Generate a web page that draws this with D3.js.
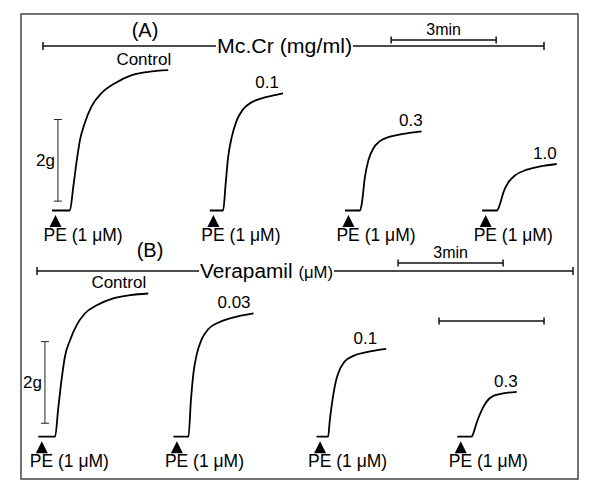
<!DOCTYPE html>
<html>
<head>
<meta charset="utf-8">
<script src="https://cdn.jsdelivr.net/npm/d3@7"></script>
<style>
  body { margin: 0; background: #fff; }
  svg text { font-family: "Liberation Sans", Arial, sans-serif; fill: #000; }
</style>
</head>
<body>
<svg id="chart" width="600" height="504"></svg>
<script>
// contraction records: [minutes from start of trace, grams above baseline]
var mcCrControl = [[0,0],[0.51,0],[0.61,0.59],[0.71,1.24],[0.80,1.73],[0.94,2.15],[1.13,2.55],[1.42,2.88],[1.80,3.12],[2.28,3.32],[2.75,3.40],[3.32,3.44]];
var mcCr01 = [[0,0],[0.38,0],[0.45,0.64],[0.52,1.29],[0.62,1.78],[0.76,2.19],[0.95,2.48],[1.19,2.65],[1.48,2.75],[1.76,2.81],[2.09,2.87]];
var mcCr03 = [[0,0],[0.43,0],[0.48,0.16],[0.57,0.82],[0.67,1.23],[0.81,1.52],[1.00,1.70],[1.29,1.81],[1.67,1.88],[2.19,1.94]];
var mcCr10 = [[0,0],[0.43,0],[0.51,0.16],[0.61,0.45],[0.75,0.69],[0.94,0.86],[1.28,1.00],[1.66,1.08],[2.13,1.14]];

var verControl = [[0,0],[0.48,0],[0.57,0.70],[0.67,1.43],[0.76,1.96],[0.91,2.37],[1.10,2.74],[1.33,3.02],[1.67,3.22],[2.14,3.39],[2.62,3.47],[3.14,3.51]];
var ver003 = [[0,0],[0.43,0],[0.50,0.88],[0.57,1.54],[0.67,2.03],[0.81,2.39],[1.00,2.64],[1.29,2.80],[1.67,2.91],[2.29,3.02]];
var ver01 = [[0,0],[0.33,0],[0.38,0.41],[0.47,0.98],[0.57,1.42],[0.67,1.66],[0.80,1.84],[1.05,1.98],[1.43,2.07],[1.99,2.15]];
var ver03 = [[0,0],[0.41,0],[0.46,0.08],[0.55,0.33],[0.70,0.65],[0.84,0.86],[1.03,1.00],[1.31,1.06],[1.70,1.10]];

var mcCrLabels = ["Control", "0.1", "0.3", "1.0"];
var mcCrStarts = [0, 4.51, 8.37, 12.29];   // minute at which each trace begins
var verLabels = ["Control", "0.03", "0.1", "0.3"];
var verStarts = [0, 3.86, 7.95, 11.97];

var peOffset = 0.1;        // PE added this long after each trace starts (min)
var timeBar = 3;           // calibration bars
var tensionBar = 2;

var svg = d3.select("#chart");

// frame
svg.append("rect")
  .attr("x", 21).attr("y", 14)
  .attr("width", 557).attr("height", 465)
  .attr("fill", "none")
  .attr("stroke", "#444")
  .attr("stroke-width", 1.5);

function barWithEnds(g, x1, x2, y, h, w) {
  g.append("line").attr("x1", x1).attr("x2", x2).attr("y1", y).attr("y2", y)
    .attr("stroke", "#111").attr("stroke-width", w);
  [x1, x2].forEach(function(x) {
    g.append("line").attr("x1", x).attr("x2", x).attr("y1", y - h / 2).attr("y2", y + h / 2)
      .attr("stroke", "#111").attr("stroke-width", 1.5);
  });
}

function drawPanel(p) {
  var g = svg.append("g");
  var x = d3.scaleLinear().domain([0, 15]).range([p.x0, p.x0 + 15 * 35]);
  var y = d3.scaleLinear().domain([0, 4]).range([p.base, p.base - 4 * 40.8]);

  var line = d3.line()
    .x(function(d) { return x(d[0]); })
    .y(function(d) { return y(d[1]); })
    .curve(d3.curveMonotoneX);

  // panel title
  g.append("text")
    .attr("x", p.titleX).attr("y", p.titleY)
    .attr("text-anchor", "middle")
    .attr("font-size", 20)
    .text(p.title);

  // drug line interrupted by its name
  var lab = g.append("text")
    .attr("x", p.drugX).attr("y", p.lineY + 7)
    .attr("font-size", 20)
    .text(p.drug);
  lab.append("tspan").attr("font-size", 16).text(p.unit);
  lab.attr("textLength", p.drugW).attr("lengthAdjust", "spacingAndGlyphs");
  g.append("line").attr("x1", p.lineX1).attr("x2", p.drugX - 1)
    .attr("y1", p.lineY).attr("y2", p.lineY).attr("stroke", "#111").attr("stroke-width", 1.5);
  g.append("line").attr("x1", p.drugX + p.drugW + 1).attr("x2", p.lineX2)
    .attr("y1", p.lineY).attr("y2", p.lineY).attr("stroke", "#111").attr("stroke-width", 1.5);
  g.append("line").attr("x1", p.lineX1).attr("x2", p.lineX1)
    .attr("y1", p.lineY - 4).attr("y2", p.lineY + 4).attr("stroke", "#111").attr("stroke-width", 1.5);
  g.append("line").attr("x1", p.lineX2).attr("x2", p.lineX2)
    .attr("y1", p.lineY - 4).attr("y2", p.lineY + 4).attr("stroke", "#111").attr("stroke-width", 1.5);

  // time calibration bars
  p.timeBars.forEach(function(tb) {
    barWithEnds(g, x(tb.t), x(tb.t + timeBar), tb.y, 7, 1.5);
    if (tb.label) {
      g.append("text")
        .attr("x", x(tb.t + timeBar / 2)).attr("y", tb.y - 5)
        .attr("text-anchor", "middle")
        .attr("font-size", 16)
        .text("3min");
    }
  });

  // tension calibration bar
  var sx = x(p.scaleT);
  g.append("line").attr("x1", sx).attr("x2", sx)
    .attr("y1", y(p.scaleG)).attr("y2", y(p.scaleG + tensionBar))
    .attr("stroke", "#222").attr("stroke-width", 1);
  [p.scaleG, p.scaleG + tensionBar].forEach(function(v) {
    g.append("line").attr("x1", sx - 4).attr("x2", sx + 4)
      .attr("y1", y(v)).attr("y2", y(v))
      .attr("stroke", "#222").attr("stroke-width", 1);
  });
  g.append("text")
    .attr("x", sx - 3).attr("y", y(p.scaleG + tensionBar / 2) + 6)
    .attr("text-anchor", "end")
    .attr("font-size", 17)
    .text("2g");

  // traces
  p.traces.forEach(function(tr, i) {
    var t0 = p.starts[i];
    var pts = tr.map(function(d) { return [d[0] + t0, d[1]]; });
    g.append("path")
      .datum(pts)
      .attr("d", line)
      .attr("fill", "none")
      .attr("stroke", "#000")
      .attr("stroke-width", 1.8)
      .attr("stroke-linejoin", "round");

    var last = pts[pts.length - 1];
    g.append("text")
      .attr("x", x(last[0]) + p.labelDx[i]).attr("y", y(last[1]) - 5)
      .attr("text-anchor", "end")
      .attr("font-size", 17)
      .text(p.labels[i]);

    // PE marker
    var ax = x(t0 + peOffset), ay = p.base;
    g.append("path")
      .attr("d", "M" + ax + "," + (ay + 4.5) + "L" + (ax + 6) + "," + (ay + 16.5) + "L" + (ax - 6) + "," + (ay + 16.5) + "Z")
      .attr("fill", "#000");
    g.append("text")
      .attr("x", ax - 12).attr("y", ay + 30)
      .attr("font-size", 17.5)
      .text("PE (1 \u03bcM)");
  });
}

drawPanel({
  title: "(A)", titleX: 145, titleY: 37,
  drug: "Mc.Cr (mg/ml)", unit: "", drugX: 217, drugW: 135,
  lineY: 46, lineX1: 43, lineX2: 544,
  x0: 52, base: 210.5,
  timeBars: [{ t: 9.69, y: 40, label: true }],
  scaleT: 0.17, scaleG: 0.23,
  traces: [mcCrControl, mcCr01, mcCr03, mcCr10],
  starts: mcCrStarts, labels: mcCrLabels,
  labelDx: [3, -4, 1, 0]
});

drawPanel({
  title: "(B)", titleX: 150, titleY: 257,
  drug: "Verapamil ", unit: "(\u03bcM)", drugX: 200, drugW: 133,
  lineY: 271, lineX1: 37, lineX2: 573,
  x0: 38.3, base: 436.7,
  timeBars: [{ t: 10.28, y: 263, label: true }, { t: 11.45, y: 321, label: false }],
  scaleT: 0.19, scaleG: 0.33,
  traces: [verControl, ver003, ver01, ver03],
  starts: verStarts, labels: verLabels,
  labelDx: [-2, -3, -9, 1]
});
</script>
</body>
</html>
